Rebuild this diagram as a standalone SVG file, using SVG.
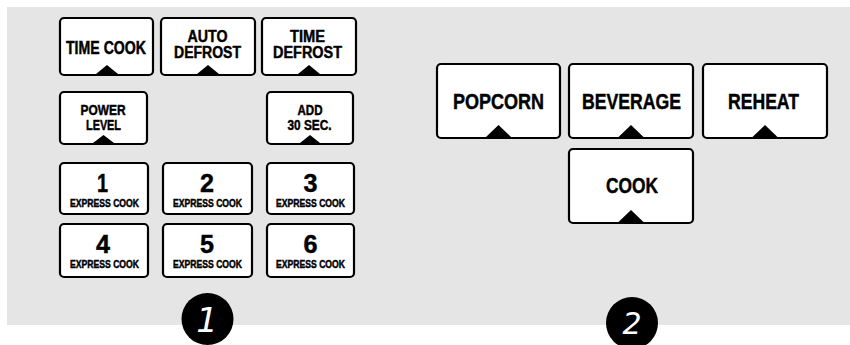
<svg xmlns="http://www.w3.org/2000/svg" width="850" height="345" viewBox="0 0 850 345">
<style>
.btn{fill:#fff;stroke:#000;stroke-width:2.2}
.tri{fill:#000}
text{font-family:"Liberation Sans","DejaVu Sans Condensed",sans-serif;font-weight:bold;fill:#000;stroke:#000;stroke-width:0.45;text-anchor:middle}
.num{fill:#fff;stroke:none;font-family:"DejaVu Sans","Liberation Sans",sans-serif;font-style:italic;font-weight:normal}
</style>
<rect x="7" y="7" width="843" height="318" fill="#e5e5e5"/>
<g id="time-cook"><rect class="btn" x="60" y="18" width="93" height="57" rx="4"/><path class="tri" d="M96 74 L107 65 L118 74 Z"/><text x="106" y="54" font-size="18" textLength="80" lengthAdjust="spacingAndGlyphs">TIME COOK</text></g>
<g id="auto-defrost"><rect class="btn" x="161" y="18" width="94" height="57" rx="4"/><path class="tri" d="M197 74 L208 65 L219 74 Z"/><text x="207.5" y="42" font-size="16" textLength="40" lengthAdjust="spacingAndGlyphs">AUTO</text><text x="207.5" y="58" font-size="16" textLength="67" lengthAdjust="spacingAndGlyphs">DEFROST</text></g>
<g id="time-defrost"><rect class="btn" x="262" y="18" width="94" height="57" rx="4"/><path class="tri" d="M298 74 L309 65 L320 74 Z"/><text x="307.5" y="42" font-size="16" textLength="35" lengthAdjust="spacingAndGlyphs">TIME</text><text x="307.5" y="58" font-size="16" textLength="69" lengthAdjust="spacingAndGlyphs">DEFROST</text></g>
<g id="power-level"><rect class="btn" x="60" y="92" width="87" height="52" rx="4"/><path class="tri" d="M93 143 L103.5 135 L114 143 Z"/><text x="103" y="115" font-size="14" textLength="45" lengthAdjust="spacingAndGlyphs">POWER</text><text x="103.5" y="129.5" font-size="14" textLength="35" lengthAdjust="spacingAndGlyphs">LEVEL</text></g>
<g id="add-30"><rect class="btn" x="267" y="92" width="86" height="52" rx="4"/><path class="tri" d="M300 143 L310 135 L320 143 Z"/><text x="310" y="115" font-size="14" textLength="25" lengthAdjust="spacingAndGlyphs">ADD</text><text x="309.5" y="129.5" font-size="14" textLength="44" lengthAdjust="spacingAndGlyphs">30 SEC.</text></g>
<g id="key-1"><rect class="btn" x="60" y="163" width="88" height="51" rx="4"/><text x="102.5" y="192" font-size="26.5" textLength="11" lengthAdjust="spacingAndGlyphs">1</text><text x="104.5" y="207" font-size="10" textLength="69" lengthAdjust="spacingAndGlyphs">EXPRESS COOK</text></g>
<g id="key-2"><rect class="btn" x="163" y="163" width="89" height="51" rx="4"/><text x="207" y="192" font-size="26.5" textLength="14" lengthAdjust="spacingAndGlyphs">2</text><text x="207.5" y="207" font-size="10" textLength="69" lengthAdjust="spacingAndGlyphs">EXPRESS COOK</text></g>
<g id="key-3"><rect class="btn" x="267" y="163" width="87" height="51" rx="4"/><text x="310.5" y="192" font-size="26.5" textLength="14" lengthAdjust="spacingAndGlyphs">3</text><text x="310.5" y="207" font-size="10" textLength="69" lengthAdjust="spacingAndGlyphs">EXPRESS COOK</text></g>
<g id="key-4"><rect class="btn" x="60" y="224" width="88" height="53" rx="4"/><text x="103" y="253" font-size="26.5" textLength="14" lengthAdjust="spacingAndGlyphs">4</text><text x="104.5" y="268" font-size="10" textLength="69" lengthAdjust="spacingAndGlyphs">EXPRESS COOK</text></g>
<g id="key-5"><rect class="btn" x="163" y="224" width="89" height="53" rx="4"/><text x="207" y="253" font-size="26.5" textLength="14" lengthAdjust="spacingAndGlyphs">5</text><text x="207.5" y="268" font-size="10" textLength="69" lengthAdjust="spacingAndGlyphs">EXPRESS COOK</text></g>
<g id="key-6"><rect class="btn" x="267" y="224" width="87" height="53" rx="4"/><text x="310.5" y="253" font-size="26.5" textLength="14" lengthAdjust="spacingAndGlyphs">6</text><text x="310.5" y="268" font-size="10" textLength="69" lengthAdjust="spacingAndGlyphs">EXPRESS COOK</text></g>
<g id="popcorn"><rect class="btn" x="437" y="64" width="123" height="74" rx="4"/><path class="tri" d="M486 137 L498.5 125 L511 137 Z"/><text x="498.5" y="109" font-size="22.5" textLength="91" lengthAdjust="spacingAndGlyphs">POPCORN</text></g>
<g id="beverage"><rect class="btn" x="569" y="64" width="124" height="74" rx="4"/><path class="tri" d="M618.5 137 L631 125 L643.5 137 Z"/><text x="631.5" y="109" font-size="22.5" textLength="99" lengthAdjust="spacingAndGlyphs">BEVERAGE</text></g>
<g id="reheat"><rect class="btn" x="703" y="64" width="124" height="74" rx="4"/><path class="tri" d="M752.5 137 L765 125 L777.5 137 Z"/><text x="763.5" y="109" font-size="22.5" textLength="71" lengthAdjust="spacingAndGlyphs">REHEAT</text></g>
<g id="cook"><rect class="btn" x="569" y="149" width="124" height="74" rx="4"/><path class="tri" d="M618.5 222 L631 210 L643.5 222 Z"/><text x="632" y="193" font-size="22.5" textLength="52" lengthAdjust="spacingAndGlyphs">COOK</text></g>
<g id="label-1"><circle cx="207.5" cy="319" r="26" fill="#000"/><text class="num" x="207" y="332" font-size="34">1</text></g>
<g id="label-2"><circle cx="632" cy="323" r="26" fill="#000"/><text class="num" x="632" y="334" font-size="30">2</text></g>
<g id="connectors"/>
</svg>
